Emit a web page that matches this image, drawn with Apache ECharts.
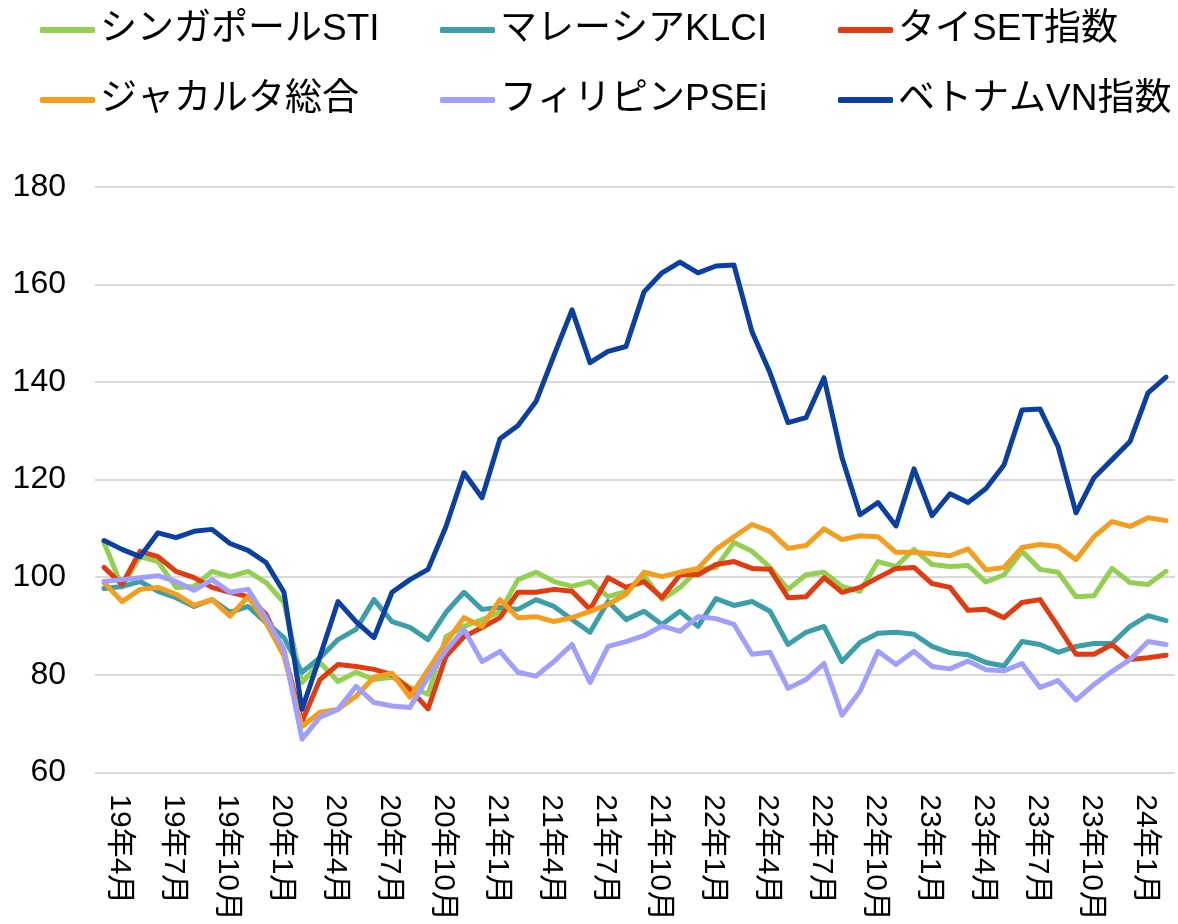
<!DOCTYPE html>
<html>
<head>
<meta charset="utf-8">
<script src="https://cdn.jsdelivr.net/npm/echarts@6/dist/echarts.min.js"></script>
<style>
  html, body { margin: 0; padding: 0; background: #fff; }
  #chart { width: 1178px; height: 924px; }
</style>
</head>
<body>
<div id="chart"></div>
<script>
// monthly index, 19年4月 = 100 base (roughly)
const months = [
  '19年4月', '19年5月', '19年6月', '19年7月', '19年8月', '19年9月', '19年10月', '19年11月', '19年12月',
  '20年1月', '20年2月', '20年3月', '20年4月', '20年5月', '20年6月', '20年7月', '20年8月', '20年9月', '20年10月', '20年11月', '20年12月',
  '21年1月', '21年2月', '21年3月', '21年4月', '21年5月', '21年6月', '21年7月', '21年8月', '21年9月', '21年10月', '21年11月', '21年12月',
  '22年1月', '22年2月', '22年3月', '22年4月', '22年5月', '22年6月', '22年7月', '22年8月', '22年9月', '22年10月', '22年11月', '22年12月',
  '23年1月', '23年2月', '23年3月', '23年4月', '23年5月', '23年6月', '23年7月', '23年8月', '23年9月', '23年10月', '23年11月', '23年12月',
  '24年1月', '24年2月', '24年3月'
]

const sti = [
  107.1, 98, 104.2, 103.2, 97.9, 98.1, 101.2, 100.1, 101.2, 98.9,
  94.8, 78.4, 82.5, 78.6, 80.5, 79, 79.5, 77.4, 76, 87.8,
  89.9, 91.3, 92.8, 99.5, 101, 99.1, 98.1, 99.1, 96, 97.1,
  100.3, 95.4, 97.9, 101.6, 102, 107.1, 105.3, 102, 97.5, 100.5,
  101, 98.1, 97.1, 103.2, 102.2, 105.7, 102.6, 102.2, 102.4, 99,
  100.5, 105.3, 101.6, 101, 96, 96.2, 101.8, 98.9, 98.5, 101.2
]
const klci = [
  97.7, 98.1, 99.1, 97.1, 95.8, 94, 95.4, 92.8, 94, 90.7,
  87.6, 80.5, 83.5, 87.2, 89.3, 95.4, 90.9, 89.7, 87.2, 92.8,
  96.9, 93.4, 93.8, 93.4, 95.4, 94, 91.3, 88.7, 95, 91.3,
  93, 90.3, 93, 89.9, 95.6, 94.2, 95, 93, 86.2, 88.7,
  89.9, 82.7, 86.6, 88.5, 88.7, 88.3, 85.8, 84.5, 84.1, 82.5,
  81.8, 86.8, 86.2, 84.6, 85.8, 86.4, 86.4, 89.9, 92.1, 91.1
]
const setIdx = [
  102, 98.5, 105.3, 104.2, 101.2, 99.9, 97.9, 96.9, 96, 92.4,
  84.5, 70.4, 79, 82.1, 81.7, 81.1, 80, 77, 73, 83.8,
  87.8, 89.7, 91.7, 96.9, 96.9, 97.5, 97.1, 93.4, 99.9, 97.9,
  99.1, 95.8, 100.5, 100.5, 102.6, 103.2, 101.8, 101.6, 95.8, 96,
  99.9, 96.9, 97.9, 99.9, 101.8, 102, 98.7, 97.9, 93.2, 93.4,
  91.7, 94.8, 95.4, 89.9, 84.2, 84.2, 86.2, 83.1, 83.5, 84
]
const jakarta = [
  98.9, 95, 97.5, 97.9, 96.5, 94.2, 95.4, 92, 96, 90.7,
  83.8, 69.4, 72.3, 72.9, 75.6, 79.5, 80.3, 75.4, 81, 86.6,
  91.7, 89.9, 95.4, 91.7, 91.9, 90.9, 91.7, 93, 94.4, 96.5,
  101, 100.1, 101, 101.8, 105.7, 108.3, 110.8, 109.4, 105.9, 106.5,
  109.9, 107.7, 108.5, 108.3, 105.1, 105.1, 104.8, 104.4, 105.8, 101.5,
  102, 106.1, 106.7, 106.3, 103.6, 108.3, 111.4, 110.4, 112.2, 111.6
]
const psei = [
  99.1, 99.5, 99.9, 100.3, 99.1, 97.3, 99.5, 96.9, 97.5, 91.7,
  85.2, 66.8, 71.3, 72.9, 77.6, 74.3, 73.6, 73.3, 79.5, 85,
  89.3, 82.7, 84.8, 80.5, 79.7, 82.7, 86.2, 78.4, 85.8, 86.8,
  88, 90, 88.9, 91.9, 91.5, 90.3, 84.2, 84.6, 77.2, 79,
  82.3, 71.7, 76.6, 84.8, 82.1, 84.8, 81.7, 81.2, 82.8, 81,
  80.8, 82.3, 77.4, 78.8, 74.8, 78, 80.7, 83.1, 86.8, 86.2
]
const vn = [
  107.5, 105.7, 104.2, 109.1, 108.1, 109.4, 109.8, 106.9, 105.5, 103,
  96.9, 72.9, 83.8, 95, 90.9, 87.6, 96.9, 99.5, 101.6, 110.4,
  121.4, 116.3, 128.4, 131.1, 136, 145.5, 154.8, 144, 146.3, 147.3,
  158.5, 162.4, 164.6, 162.4, 163.8, 164, 150.3, 141.9, 131.7, 132.7,
  140.9, 124.5, 112.8, 115.3, 110.5, 122.2, 112.6, 117.1, 115.3, 118.2,
  123, 134.3, 134.5, 126.8, 113.2, 120.4, 124.1, 127.8, 137.8, 141
]

const seriesNames = ['シンガポールSTI', 'マレーシアKLCI', 'タイSET指数', 'ジャカルタ総合', 'フィリピンPSEi', 'ベトナムVN指数']
const seriesData = [sti, klci, setIdx, jakarta, psei, vn]
const colors = ['#92D050', '#3A9FA8', '#E43A0F', '#F59D1C', '#A09EFF', '#0A3FA3']

const font = "'Liberation Sans', Arial, 'Noto Sans CJK JP', sans-serif"

const chart = echarts.init(document.getElementById('chart'))

// one legend per column so the items line up like the original
const legendBase = {
  orient: 'vertical',
  top: 10,
  padding: 0,
  itemGap: 30,
  itemWidth: 55,
  itemHeight: 6,
  icon: 'roundRect',
  textStyle: { fontSize: 37, lineHeight: 40, color: '#000', fontFamily: font }
}

const option = {
  animation: false,
  color: colors,
  textStyle: { fontFamily: font },
  legend: [
    { ...legendBase, left: 40, data: [seriesNames[0], seriesNames[3]] },
    { ...legendBase, left: 440, data: [seriesNames[1], seriesNames[4]] },
    { ...legendBase, left: 838, data: [seriesNames[2], seriesNames[5]] }
  ],
  grid: { left: 95, right: 3, top: 187, bottom: 151, containLabel: false },
  xAxis: {
    type: 'category',
    data: months,
    boundaryGap: true,
    axisLine: { show: false },
    axisTick: { show: false },
    axisLabel: {
      interval: 2,
      rotate: -90,
      align: 'left',
      verticalAlign: 'bottom',
      margin: 22,
      fontSize: 30,
      color: '#000',
      fontFamily: font
    }
  },
  yAxis: {
    type: 'value',
    min: 60,
    max: 180,
    interval: 20,
    axisLine: { show: false },
    axisTick: { show: false },
    axisLabel: { fontSize: 32, color: '#000', margin: 29, fontFamily: font },
    splitLine: { lineStyle: { color: '#d9d9d9', width: 2 } }
  },
  series: seriesNames.map((name, i) => ({
    name: name,
    type: 'line',
    data: seriesData[i],
    symbol: 'none',
    lineStyle: { width: 5, color: colors[i], cap: 'round', join: 'round' },
    itemStyle: { color: colors[i] }
  }))
}

chart.setOption(option)
</script>
</body>
</html>
